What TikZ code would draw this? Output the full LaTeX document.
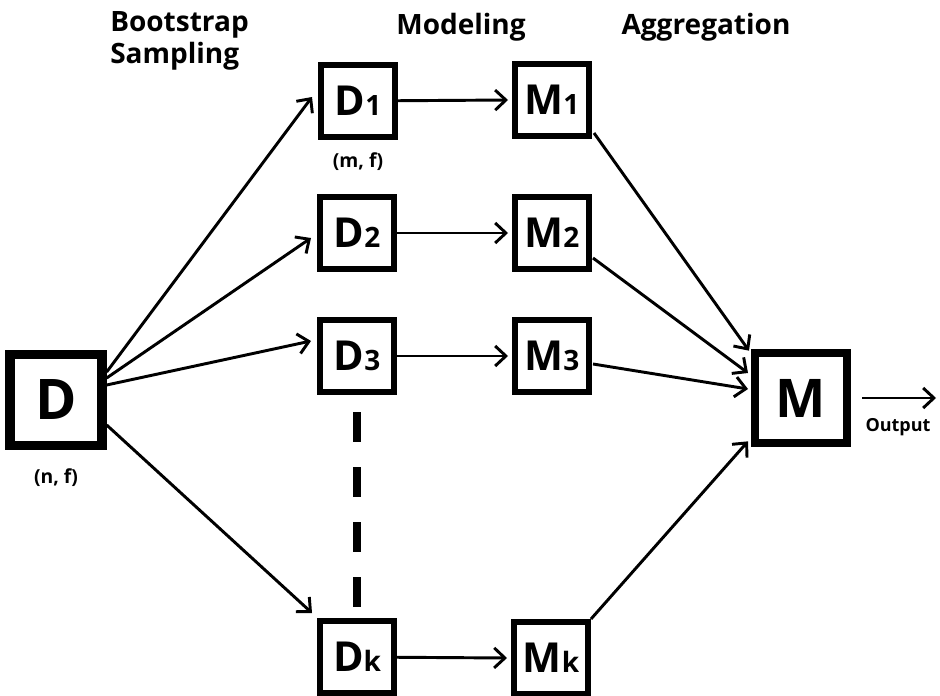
\documentclass[tikz,border=0pt]{standalone}
\usepackage{fontspec}
\setmainfont{Open Sans}
\usetikzlibrary{arrows.meta,calc}
\begin{document}
\begin{tikzpicture}[x=0.75pt,y=-0.75pt,
  bigbox/.style={draw,line width=7pt,minimum width=69pt,minimum height=68pt,inner sep=0pt,font=\bfseries\fontsize{42}{44}\selectfont},
  smallbox/.style={draw,line width=4.5pt,minimum width=55.5pt,minimum height=54pt,inner sep=0pt,font=\bfseries\fontsize{31}{33}\selectfont},
  arr/.style={line width=2.2pt,-{Straight Barb[length=8pt,width=15pt,line width=2.2pt]}},
  head/.style={font=\bfseries\fontsize{21}{24}\selectfont,inner sep=0pt},
  lab/.style={font=\bfseries\fontsize{14.5}{16}\selectfont,inner sep=0pt}]
\newcommand{\sbx}[1]{{\fontsize{21}{22}\selectfont #1}}
\useasboundingbox (0,0) rectangle (940,696);
% headings
\node[head,anchor=north west,align=left] (hb) at (110,11) {Bootstrap\\Sampling};
\node[head] (hm) at (461,27) {Modeling};
\node[head] (ha) at (706,27) {Aggregation};
% nodes
\node[bigbox] (D) at (56,400) {D};
\node[lab] (nf) at (56,478) {(n, f)};
\node[smallbox] (D1) at (358,101) {D\sbx{1}};
\node[lab] (mf) at (358,162) {(m, f)};
\node[smallbox] (D2) at (357,233) {D\sbx{2}};
\node[smallbox] (D3) at (357,356) {D\sbx{3}};
\node[smallbox] (Dk) at (357,657) {D\sbx{k}};
\node[smallbox] (M1) at (552,100) {M\sbx{1}};
\node[smallbox] (M2) at (552,233) {M\sbx{2}};
\node[smallbox] (M3) at (552,356) {M\sbx{3}};
\node[smallbox] (Mk) at (551,658) {M\sbx{k}};
\node[bigbox,line width=6pt,font=\bfseries\fontsize{40}{44}\selectfont] (M) at (801,398) {M};
\node[lab,font=\bfseries\fontsize{13.5}{14}\selectfont] (out) at (898,427) {Output};
\coordinate (oe) at (936,398);
% dashed line
\draw[line width=6pt,dash pattern=on 22.5pt off 18.75pt] ($(D3.south)+(0,17)$) -- ($(Dk.north)+(0,-11)$);
% sampling arrows
\draw[arr] ($(D.east)+(0,-28)$) -- ($(D1.west)+(-6,-4)$);
\draw[arr] ($(D.east)+(0,-22)$) -- ($(D2.west)+(-6,5)$);
\draw[arr] ($(D.east)+(0,-15)$) -- ($(D3.west)+(-6,-15)$);
\draw[arr] ($(D.east)+(0,25)$) -- ($(Dk.north west)+(-5,-5)$);
% modeling arrows
\draw[arr] (D1) -- ($(M1.west)+(-4,0)$);
\draw[arr] (D2) -- ($(M2.west)+(-4,0)$);
\draw[arr] (D3) -- ($(M3.west)+(-4,0)$);
\draw[arr] (Dk) -- ($(Mk.west)+(-4,0)$);
% aggregation arrows
\draw[arr] ($(M1.east)+(2,33)$) -- ($(M.north west)+(-2,2)$);
\draw[arr] ($(M2.east)+(1,25)$) -- ($(M.west)+(-3,-25)$);
\draw[arr] ($(M3.east)+(1,8)$) -- ($(M.west)+(-3,-9)$);
\draw[arr] ($(Mk.north east)+(0,0)$) -- ($(M.south west)+(-3,-6)$);
% output
\draw[arr] ($(M.east)+(11,0)$) -- (oe);
\end{tikzpicture}
\end{document}
